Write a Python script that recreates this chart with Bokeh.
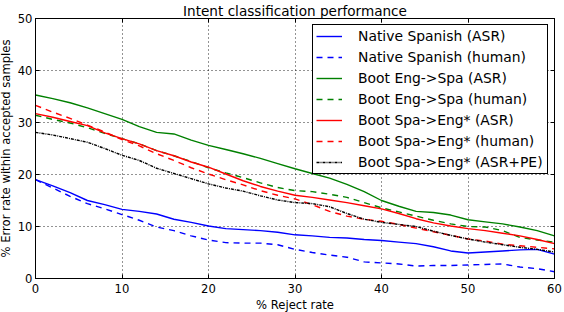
from bokeh.plotting import figure
from bokeh.embed import file_html
from bokeh.resources import INLINE
from bokeh.models import Range1d, LinearAxis, Legend, LegendItem, FixedTicker

# ---- data ----
reject_rate = [0, 2, 4, 6, 8, 10, 12, 14, 16, 18, 20, 22, 24, 26, 28, 30,
               32, 34, 36, 38, 40, 42, 44, 46, 48, 50, 52, 54, 56, 58, 60]

native_asr = [19.0, 17.8, 16.5, 15.0, 14.2, 13.3, 12.9, 12.4, 11.4, 10.8, 10.1,
              9.6, 9.4, 9.2, 8.9, 8.4, 8.2, 7.9, 7.8, 7.5, 7.3, 7.0, 6.7, 6.1,
              5.3, 4.9, 5.1, 5.3, 5.5, 5.6, 4.7]
native_human = [19.0, 17.4, 15.8, 14.4, 13.4, 12.3, 11.2, 9.9, 9.2, 8.2, 7.4,
                6.9, 6.8, 6.8, 6.5, 5.6, 5.0, 4.5, 4.1, 3.2, 3.0, 2.8, 2.4, 2.5,
                2.5, 2.6, 2.7, 2.8, 2.2, 1.9, 1.3]
eng_spa_asr = [35.3, 34.6, 33.8, 32.8, 31.7, 30.6, 29.2, 28.1, 27.8, 26.6, 25.6,
               24.8, 24.0, 23.1, 22.1, 21.1, 20.2, 19.3, 18.1, 16.7, 15.0, 13.9,
               12.9, 12.7, 12.2, 11.3, 10.9, 10.5, 9.9, 9.2, 8.2]
eng_spa_human = [31.4, 30.6, 29.9, 29.0, 27.9, 26.9, 25.9, 24.6, 23.6, 22.5, 21.3,
                 20.3, 19.4, 18.4, 17.5, 16.9, 16.7, 16.2, 15.6, 14.6, 13.6, 12.8,
                 12.0, 11.2, 10.5, 10.0, 9.9, 9.2, 7.9, 7.4, 7.0]
spa_eng_asr = [31.7, 31.0, 30.2, 29.4, 28.0, 26.9, 25.9, 24.6, 23.6, 22.4, 21.4,
               20.1, 18.8, 17.7, 16.8, 16.0, 15.6, 15.1, 14.6, 14.0, 13.4, 12.5,
               11.5, 10.7, 10.1, 9.6, 9.2, 8.7, 8.2, 7.5, 6.7]
spa_eng_human = [33.3, 32.0, 30.8, 29.5, 28.2, 26.7, 25.5, 24.0, 22.7, 21.3, 20.1,
                 19.0, 18.0, 16.9, 16.0, 15.3, 14.2, 12.9, 12.0, 11.4, 11.0, 10.4,
                 9.7, 9.0, 8.3, 7.6, 7.2, 6.6, 6.3, 6.0, 5.7]
spa_eng_asr_pe = [28.1, 27.6, 26.9, 26.2, 25.0, 23.7, 22.7, 21.2, 20.2, 19.2, 18.2,
                  17.4, 16.8, 15.9, 15.1, 14.6, 14.4, 13.8, 12.5, 11.4, 10.8, 10.4,
                  10.0, 9.1, 8.3, 7.6, 7.0, 6.5, 6.0, 5.6, 5.1]

series_names = ["Native Spanish (ASR)", "Native Spanish (human)",
                "Boot Eng->Spa (ASR)", "Boot Eng->Spa (human)",
                "Boot Spa->Eng* (ASR)", "Boot Spa->Eng* (human)",
                "Boot Spa->Eng* (ASR+PE)"]
series_values = [native_asr, native_human, eng_spa_asr, eng_spa_human,
                 spa_eng_asr, spa_eng_human, spa_eng_asr_pe]
series_colors = ["#0000ff", "#0000ff", "#008000", "#008000",
                 "#ff0000", "#ff0000", "#000000"]
series_dash = ["solid", "6 5", "solid", "6 5", "solid", "6 5", "3 1 1 1"]

x_ticks = [0, 10, 20, 30, 40, 50, 60]
y_ticks = [0, 10, 20, 30, 40, 50]

FONT = "DejaVu Sans"

p = figure(frame_width=519, frame_height=260,
           x_range=Range1d(0, 60), y_range=Range1d(0, 50),
           output_backend="svg", toolbar_location=None,
           min_border_left=37, min_border_right=8,
           min_border_top=18, min_border_bottom=34)
p.margin = (0, 0, 0, -5)
p.background_fill_color = "white"
p.border_fill_color = "white"
p.outline_line_color = "black"
p.outline_line_width = 1

p.title.text = "Intent classification performance"
p.title.text_font = FONT
p.title.text_font_size = "13.6px"
p.title.text_font_style = "normal"
p.title.text_color = "black"
p.title.align = "center"
p.title.standoff = 0

for ax in (p.xaxis[0], p.yaxis[0]):
    ax.axis_line_color = "black"
    ax.major_tick_in = 4
    ax.major_tick_out = 0
    ax.minor_tick_line_color = None
    ax.major_tick_line_color = "black"
    ax.major_label_text_font = FONT
    ax.major_label_text_font_size = "11.6px"
    ax.major_label_text_color = "black"
    ax.axis_label_text_font = FONT
    ax.axis_label_text_font_size = "11.6px"
    ax.axis_label_text_font_style = "normal"
    ax.axis_label_text_color = "black"

p.xaxis[0].ticker = FixedTicker(ticks=x_ticks)
p.yaxis[0].ticker = FixedTicker(ticks=y_ticks)
p.xaxis[0].axis_label = "% Reject rate"
p.yaxis[0].axis_label = "% Error rate within accepted samples"
p.xaxis[0].major_label_standoff = 5
p.yaxis[0].major_label_standoff = 3
p.xaxis[0].axis_label_standoff = 2
p.yaxis[0].axis_label_standoff = 2

for loc, tick_list in (("right", y_ticks), ("above", x_ticks)):
    ax = LinearAxis(ticker=FixedTicker(ticks=tick_list))
    ax.major_label_overrides = {t: "" for t in tick_list}
    ax.major_label_standoff = 0
    ax.major_tick_in = 4
    ax.major_tick_out = 0
    ax.minor_tick_line_color = None
    ax.axis_line_color = "black"
    p.add_layout(ax, loc)

for g in (p.xgrid[0], p.ygrid[0]):
    g.grid_line_color = "black"
    g.grid_line_dash = "1 3"
    g.grid_line_width = 1
    g.grid_line_alpha = 0.85
p.xgrid[0].ticker = FixedTicker(ticks=x_ticks)
p.ygrid[0].ticker = FixedTicker(ticks=y_ticks)

items = []
for name, vals, col, dash in zip(series_names, series_values, series_colors, series_dash):
    r = p.line(reject_rate, vals, line_color=col, line_width=1.4, line_dash=dash)
    items.append(LegendItem(label=name, renderers=[r]))

legend = Legend(items=items, location="top_right", margin=6, padding=3,
                spacing=5, glyph_height=16, label_height=16, glyph_width=26,
                label_standoff=16, label_width=186,
                label_text_font=FONT, label_text_font_size="13.9px",
                label_text_color="black",
                border_line_color="black", border_line_width=1,
                border_line_alpha=1.0,
                background_fill_color="white", background_fill_alpha=1.0)
p.add_layout(legend)

open("out.html", "w").write(file_html(p, INLINE))
